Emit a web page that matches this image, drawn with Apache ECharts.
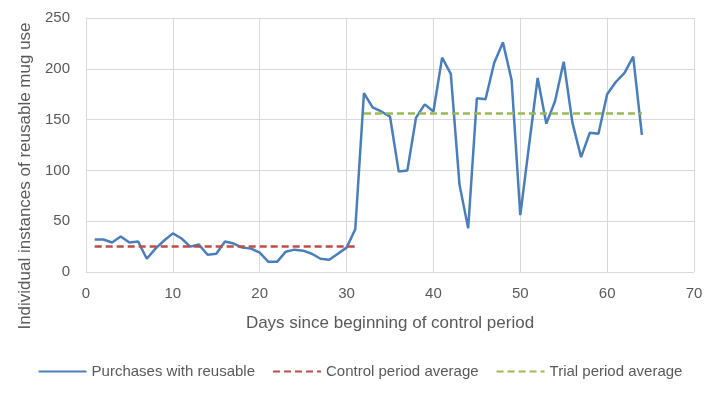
<!DOCTYPE html>
<html>
<head>
<meta charset="utf-8">
<script src="https://cdn.jsdelivr.net/npm/echarts@6/dist/echarts.min.js"></script>
<style>html,body{margin:0;padding:0;background:#fff}#c{width:720px;height:393px}</style>
</head>
<body>
<div id="c"></div>
<script>
const days = [];
for (let d = 1; d <= 64; d++) days.push(d);
const purchases = [32, 32, 29, 35, 29, 30, 13, 23, 31, 38,
  33, 25, 27, 17, 18, 30, 28, 24, 23, 19,
  10, 10, 20, 22, 21, 18, 13, 12, 18, 24,
  42, 176, 162, 158, 153, 99, 100, 152, 165, 158,
  211, 195, 86, 43, 171, 170, 206, 226, 189, 56,
  124, 191, 146, 168, 207, 147, 113, 137, 136, 175,
  187, 196, 212, 135];
const controlAvg = 25;
const controlRange = [1, 31];
const trialAvg = 156;
const trialRange = [32, 64];
const xTicks = [0, 10, 20, 30, 40, 50, 60, 70];
const yTicks = [0, 50, 100, 150, 200, 250];

const font = 'Liberation Sans';
const grey = '#595959';
const chart = echarts.init(document.getElementById('c'));
chart.setOption({
  animation: false,
  grid: { left: 86, right: 26, top: 18, bottom: 121 },
  xAxis: {
    type: 'value', min: xTicks[0], max: xTicks[xTicks.length - 1], interval: 10,
    name: 'Days since beginning of control period', nameLocation: 'middle', nameGap: 43,
    nameTextStyle: { color: grey, fontSize: 17, fontFamily: font },
    axisLine: { show: false }, axisTick: { show: false },
    axisLabel: { color: grey, fontSize: 15, fontFamily: font, margin: 14 },
    splitLine: { show: true, lineStyle: { color: '#d9d9d9', width: 1 } }
  },
  yAxis: {
    type: 'value', min: yTicks[0], max: yTicks[yTicks.length - 1], interval: 50,
    name: 'Individual instances of reusable mug use', nameLocation: 'middle', nameGap: 49,
    nameTextStyle: { color: grey, fontSize: 17, fontFamily: font, padding: [0, 62, 0, 0] },
    axisLine: { show: false }, axisTick: { show: false },
    axisLabel: { color: grey, fontSize: 15, fontFamily: font, margin: 16 },
    splitLine: { show: true, lineStyle: { color: '#d9d9d9', width: 1 } }
  },
  legend: {
    top: 359, left: 'center', itemWidth: 48, itemHeight: 14, itemGap: 17,
    itemStyle: { opacity: 0 },
    lineStyle: { width: 2 },
    textStyle: { color: grey, fontSize: 15, fontFamily: font },
    data: ['Purchases with reusable', 'Control period average', 'Trial period average']
  },
  series: [
    {
      name: 'Purchases with reusable', type: 'line', showSymbol: false, symbol: 'none',
      data: days.map((d, i) => [d, purchases[i]]),
      lineStyle: { color: '#4a7ebb', width: 2.5 }, itemStyle: { color: '#4a7ebb' }
    },
    {
      name: 'Control period average', type: 'line', showSymbol: false, symbol: 'none',
      data: controlRange.map(d => [d, controlAvg]),
      lineStyle: { color: '#be4b48', width: 2.5, type: [7, 4] }, itemStyle: { color: '#be4b48' }
    },
    {
      name: 'Trial period average', type: 'line', showSymbol: false, symbol: 'none',
      data: trialRange.map(d => [d, trialAvg]),
      lineStyle: { color: '#98b954', width: 2.5, type: [7, 4] }, itemStyle: { color: '#98b954' }
    }
  ]
});
</script>
</body>
</html>
